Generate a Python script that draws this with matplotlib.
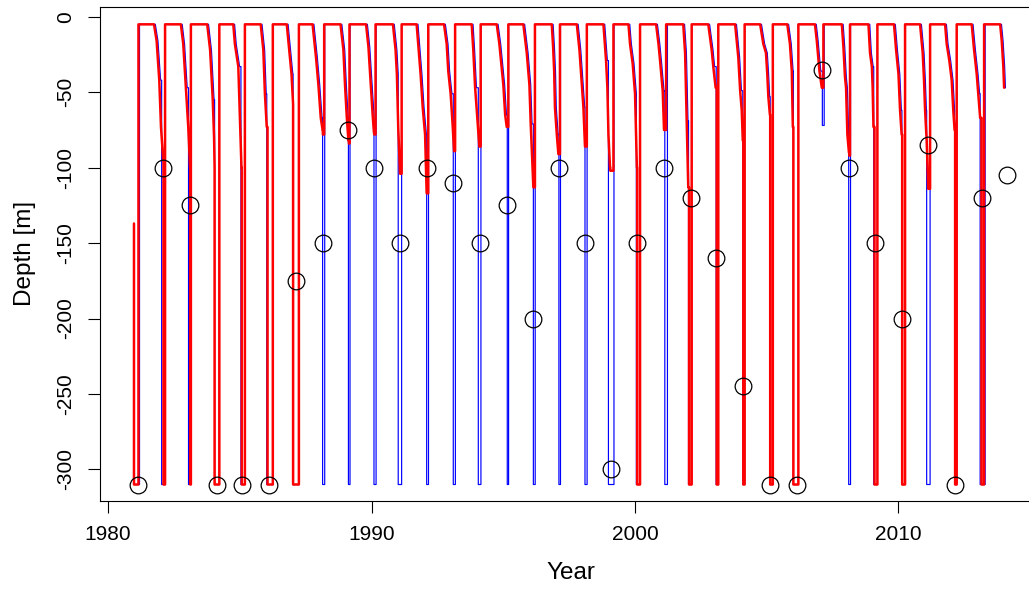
import matplotlib
matplotlib.use("Agg")
import matplotlib.pyplot as plt


XLABEL = "Year"
YLABEL = "Depth [m]"

SURFACE = -5      # shallowest depth of the curves
BOTTOM = -310     # sea floor, the curves sit here when mixing reaches it

# hump years: each hump starts with the spring rise of that year
HUMP_YEARS = list(range(1981, 2014))

# first point of the record
START_T = 1980.98
START_DEPTH = -137

# spring rise to the surface (one per hump year)
RISE_RED = [1981.15, 1982.16, 1983.14, 1984.22, 1985.19, 1986.25, 1987.24,
            1988.20, 1989.16, 1990.15, 1991.14, 1992.15, 1993.17, 1994.14,
            1995.19, 1996.20, 1997.15, 1998.17, 1999.18, 2000.19, 2001.18,
            2002.15, 2003.16, 2004.16, 2005.23, 2006.20, 2007.15, 2008.16,
            2009.20, 2010.25, 2011.20, 2012.21, 2013.25]
RISE_BLUE = [1981.19, 1982.16, 1983.14, 1984.22, 1985.19, 1986.25, 1987.24,
             1988.22, 1989.18, 1990.17, 1991.14, 1992.16, 1993.18, 1994.15,
             1995.20, 1996.21, 1997.17, 1998.18, 1999.20, 2000.19, 2001.23,
             2002.15, 2003.16, 2004.16, 2005.23, 2006.20, 2007.18, 2008.18,
             2009.20, 2010.25, 2011.20, 2012.21, 2013.29]

# end of the flat surface part, start of autumn deepening
ONSET = [1981.74, 1982.76, 1983.76, 1984.75, 1985.79, 1986.78, 1987.76,
         1988.82, 1989.79, 1990.81, 1991.71, 1992.75, 1993.80, 1994.75,
         1995.76, 1996.84, 1997.79, 1998.80, 1999.75, 2000.80, 2001.83,
         2002.78, 2003.80, 2004.75, 2005.78, 2006.83, 2007.85, 2008.86,
         2009.83, 2010.82, 2011.77, 2012.78, 2013.86]

# autumn / winter deepening, (time, depth)
AUTUMN = [
    [(1981.84, -16), (1981.94, -42), (1982.005, -73), (1982.09, -95)],
    [(1982.85, -18), (1982.95, -47), (1983.04, -73), (1983.11, -100)],
    [(1983.87, -22), (1983.97, -55), (1984.02, -80), (1984.04, -100)],
    [(1984.81, -18), (1984.94, -33), (1985.00, -67), (1985.06, -100)],
    [(1985.89, -22), (1985.95, -51), (1986.02, -73)],
    [(1986.86, -20), (1986.96, -38), (1987.02, -58)],
    [(1987.89, -27), (1987.98, -45), (1988.07, -67), (1988.14, -75)],
    [(1988.93, -22), (1988.99, -45), (1989.06, -67), (1989.12, -82)],
    [(1989.88, -20), (1989.97, -45), (1990.04, -65), (1990.09, -77)],
    [(1990.91, -22), (1990.96, -38), (1991.01, -73), (1991.08, -104)],
    [(1991.77, -18), (1991.86, -38), (1991.94, -60), (1992.03, -78), (1992.09, -117)],
    [(1992.85, -18), (1992.91, -36), (1993.00, -51), (1993.08, -73), (1993.13, -89)],
    [(1993.86, -22), (1993.93, -47), (1994.01, -67), (1994.09, -86)],
    [(1994.85, -18), (1995.00, -45), (1995.07, -65), (1995.13, -73)],
    [(1995.89, -24), (1995.99, -45), (1996.04, -71), (1996.14, -113)],
    [(1996.89, -20), (1996.93, -36), (1996.96, -60), (1997.03, -78), (1997.09, -91)],
    [(1997.89, -22), (1997.98, -45), (1998.04, -60), (1998.10, -86)],
    [(1998.90, -29), (1998.95, -47), (1998.99, -78), (1999.05, -100)],
    [(1999.81, -18), (1999.91, -31), (2000.00, -51), (2000.07, -100)],
    [(2000.89, -18), (2000.95, -29), (2001.05, -49), (2001.10, -75)],
    [(2001.90, -24), (2001.96, -69), (2002.02, -113)],
    [(2002.91, -22), (2002.97, -33), (2003.06, -47)],
    [(2003.92, -27), (2003.99, -49), (2004.05, -62), (2004.09, -82)],
    [(2004.87, -18), (2004.97, -24), (2005.02, -38), (2005.06, -53), (2005.12, -65)],
    [(2005.88, -18), (2005.95, -36), (2005.99, -73)],
    [(2006.90, -16), (2007.00, -36), (2007.09, -47)],
    [(2007.91, -20), (2007.97, -40), (2008.01, -47), (2008.06, -78), (2008.12, -90)],
    [(2008.92, -24), (2008.99, -33), (2009.02, -47), (2009.05, -73)],
    [(2009.91, -22), (2010.00, -38), (2010.06, -62), (2010.12, -78)],
    [(2010.92, -24), (2010.97, -42), (2011.01, -62), (2011.07, -82), (2011.13, -114)],
    [(2011.83, -18), (2011.93, -29), (2012.02, -42), (2012.08, -62), (2012.13, -75)],
    [(2012.87, -22), (2012.97, -38), (2013.03, -51), (2013.10, -67)],
    [(2013.92, -16), (2013.98, -33), (2014.01, -47)],
]

# winter maximum (time reached, depth), winters 1982 .. 2013
WINTER_RED_T = [1982.10, 1983.12, 1984.04, 1985.07, 1986.05, 1987.02, 1988.15,
                1989.14, 1990.10, 1991.09, 1992.10, 1993.14, 1994.10, 1995.14,
                1996.15, 1997.10, 1998.11, 1999.06, 2000.08, 2001.11, 2002.05,
                2003.10, 2004.11, 2005.13, 2006.01, 2007.10, 2008.13, 2009.09,
                2010.14, 2011.14, 2012.15, 2013.15]
WINTER_RED_MAX = [-310, -310, -310, -310, -310, -310, -78, -84, -78, -104,
                  -117, -89, -86, -73, -113, -91, -86, -102, -310, -75, -310,
                  -310, -310, -310, -310, -47, -92, -310, -310, -114, -310, -310]
WINTER_BLUE_T = [1982.03, 1983.05, 1984.04, 1985.04, 1986.02, 1987.02, 1988.14,
                 1989.12, 1990.09, 1991.01, 1992.09, 1993.10, 1994.05, 1995.15,
                 1996.14, 1997.11, 1998.10, 1998.99, 2000.05, 2001.13, 2002.03,
                 2003.08, 2004.09, 2005.13, 2006.01, 2007.11, 2008.11, 2009.06,
                 2010.13, 2011.07, 2012.13, 2013.10]
WINTER_BLUE_MAX = [-310, -310, -310, -310, -310, -310, -310, -310, -310, -310,
                   -310, -310, -310, -310, -310, -310, -310, -310, -310, -310,
                   -310, -310, -310, -310, -310, -72, -310, -310, -310, -310,
                   -310, -310]
BLUE_LAG = 0.05   # blue deepening steps come slightly after the red ones

# observed winter depths (circles)
OBS_T = [1981.12, 1982.09, 1983.11, 1984.12, 1985.09, 1986.10, 1987.12,
         1988.14, 1989.09, 1990.09, 1991.08, 1992.09, 1993.10, 1994.12,
         1995.13, 1996.13, 1997.12, 1998.10, 1999.09, 2000.08, 2001.11,
         2002.13, 2003.08, 2004.11, 2005.13, 2006.14, 2007.11, 2008.13,
         2009.11, 2010.14, 2011.11, 2012.15, 2013.16, 2014.11]
OBS_DEPTH = [-310, -100, -125, -310, -310, -310, -175, -150, -75, -100, -150,
             -100, -110, -150, -125, -200, -100, -150, -300, -150, -100, -120,
             -160, -245, -310, -310, -35, -100, -150, -200, -85, -310, -120,
             -105]

X_TICKS = [1980, 1990, 2000, 2010]
Y_TICKS = [0, -50, -100, -150, -200, -250, -300]


def build_series(rise, winter_t, winter_max, lag):
    ts = [START_T, START_T]
    ds = [START_DEPTH, BOTTOM]
    for i in range(len(HUMP_YEARS)):
        ts += [rise[i], rise[i]]
        ds += [ds[-1], SURFACE]
        ts.append(ONSET[i] + lag)
        ds.append(SURFACE)
        cut = winter_t[i] if i < len(winter_t) else float("inf")
        for t, d in AUTUMN[i]:
            if t + lag <= cut:
                ts.append(t + lag)
                ds.append(d)
        if i < len(winter_t):
            ts += [winter_t[i], winter_t[i]]
            ds += [ds[-1], winter_max[i]]
    return ts, ds


def main():
    plt.rcParams["font.family"] = ["Liberation Sans", "DejaVu Sans"]
    plt.rcParams["axes.unicode_minus"] = False

    fig = plt.figure(figsize=(10.29, 5.92), dpi=100)
    # plot region runs a little past the right edge of the picture
    ax = fig.add_axes([100 / 1029, 91.5 / 592, 941 / 1029, 493.5 / 592])

    bt, bd = build_series(RISE_BLUE, WINTER_BLUE_T, WINTER_BLUE_MAX, BLUE_LAG)
    rt, rd = build_series(RISE_RED, WINTER_RED_T, WINTER_RED_MAX, 0.0)

    ax.plot(bt, bd, color="#0000FF", lw=0.85, zorder=2)
    ax.plot(rt, rd, color="#FF0000", lw=1.8, zorder=3,
            solid_joinstyle="round", solid_capstyle="round")
    ax.plot(OBS_T, OBS_DEPTH, "o", mfc="none", mec="black", ms=12, mew=0.9,
            zorder=4)

    ax.set_xlim(1979.69, 2015.41)
    ax.set_ylim(-320.6, 6.5)
    ax.set_xticks(X_TICKS)
    ax.set_yticks(Y_TICKS)
    ax.tick_params(direction="out", length=8.6, width=0.8, labelsize=15,
                   colors="black")
    ax.tick_params(axis="x", pad=9)
    ax.tick_params(axis="y", pad=9)
    plt.setp(ax.get_yticklabels(), rotation=90, va="center", ha="right")
    for sp in ax.spines.values():
        sp.set_linewidth(0.8)
        sp.set_color("black")

    ax.set_xlabel(XLABEL, fontsize=17.5)
    ax.set_ylabel(YLABEL, fontsize=17.5)
    ax.xaxis.set_label_coords(0.5, -0.125)
    ax.yaxis.set_label_coords(-0.068, 0.5)

    fig.savefig("out.png", dpi=100)


if __name__ == "__main__":
    main()
